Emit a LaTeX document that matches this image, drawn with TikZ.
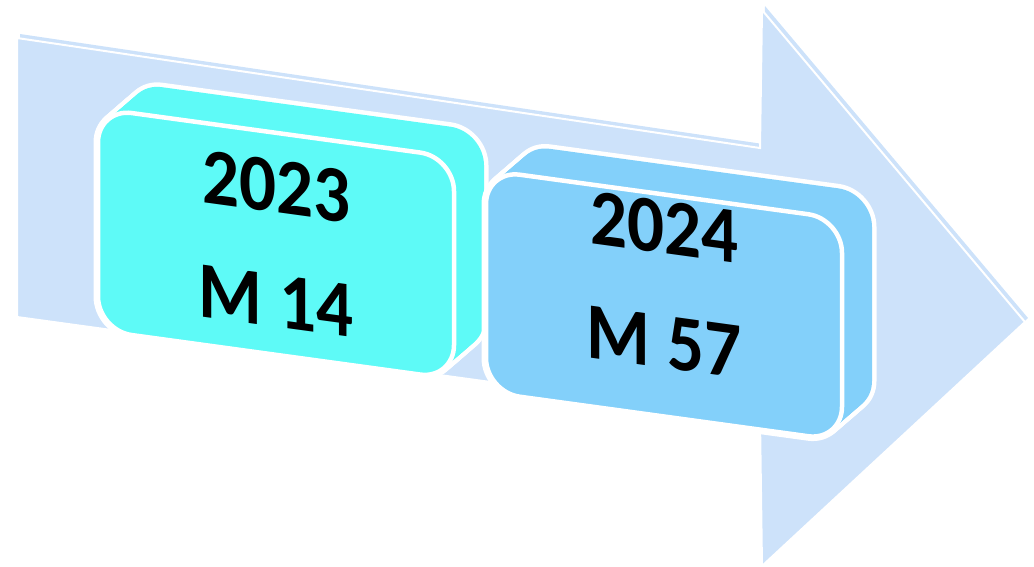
\documentclass[tikz,border=0pt]{standalone}
\usepackage{fontspec}
\setmainfont{Carlito}
\definecolor{arrowblue}{RGB}{205,226,250}
\definecolor{cyanbox}{RGB}{94,250,247}
\definecolor{bluebox}{RGB}{131,208,250}

\begin{document}
\begin{tikzpicture}[x=1pt,y=-1pt,
    face/.style={draw=white,line width=4.5pt,rounded corners=34pt,minimum width=356pt,minimum height=222pt,inner sep=0pt},
    rim/.style={white,line width=9pt,rounded corners=34pt},
    year/.style={font=\bfseries\fontsize{73}{104}\selectfont,align=center,yscale=1.1,inner sep=0pt}]
		\useasboundingbox (0,0) rectangle (1034,566);
		% arrow: back layer, then front layer
		\fill[arrowblue] (20,34) -- (763,144) -- (765,6) -- (1028,318) -- (765,563) -- (763,416) -- (20,314) -- cycle;
		\filldraw[fill=arrowblue,draw=white,line width=2pt] (17,38) -- (760,148) -- (762,10) -- (1025,322) -- (762,566) -- (760,419) -- (17,317) -- cycle;
		\begin{scope}[yslant=-0.137,transform shape]
		% 2023
		\foreach \d in {0,2,...,30}
			\draw[rim] (98+\d,95-\d) rectangle (454+\d,317-\d);
		\foreach \d in {0,2,...,30}
			\fill[cyanbox,rounded corners=34pt] (98+\d,95-\d) rectangle (454+\d,317-\d);
		\node[face,fill=cyanbox] (f23) at (276,206) {};
		\node[year] (t23) at (f23) {2023\\M 14};
		% 2024
		\foreach \d in {0,2,...,30}
			\draw[rim] (486+\d,103.5-\d) rectangle (842+\d,325.5-\d);
		\foreach \d in {0,2,...,30}
			\fill[bluebox,rounded corners=34pt] (486+\d,103.5-\d) rectangle (842+\d,325.5-\d);
		\node[face,fill=bluebox] (f24) at (664,214.5) {};
		\node[year] (t24) at ([yshift=21pt]f24.center) {2024\\M 57};
		\end{scope}
\end{tikzpicture}
\end{document}
